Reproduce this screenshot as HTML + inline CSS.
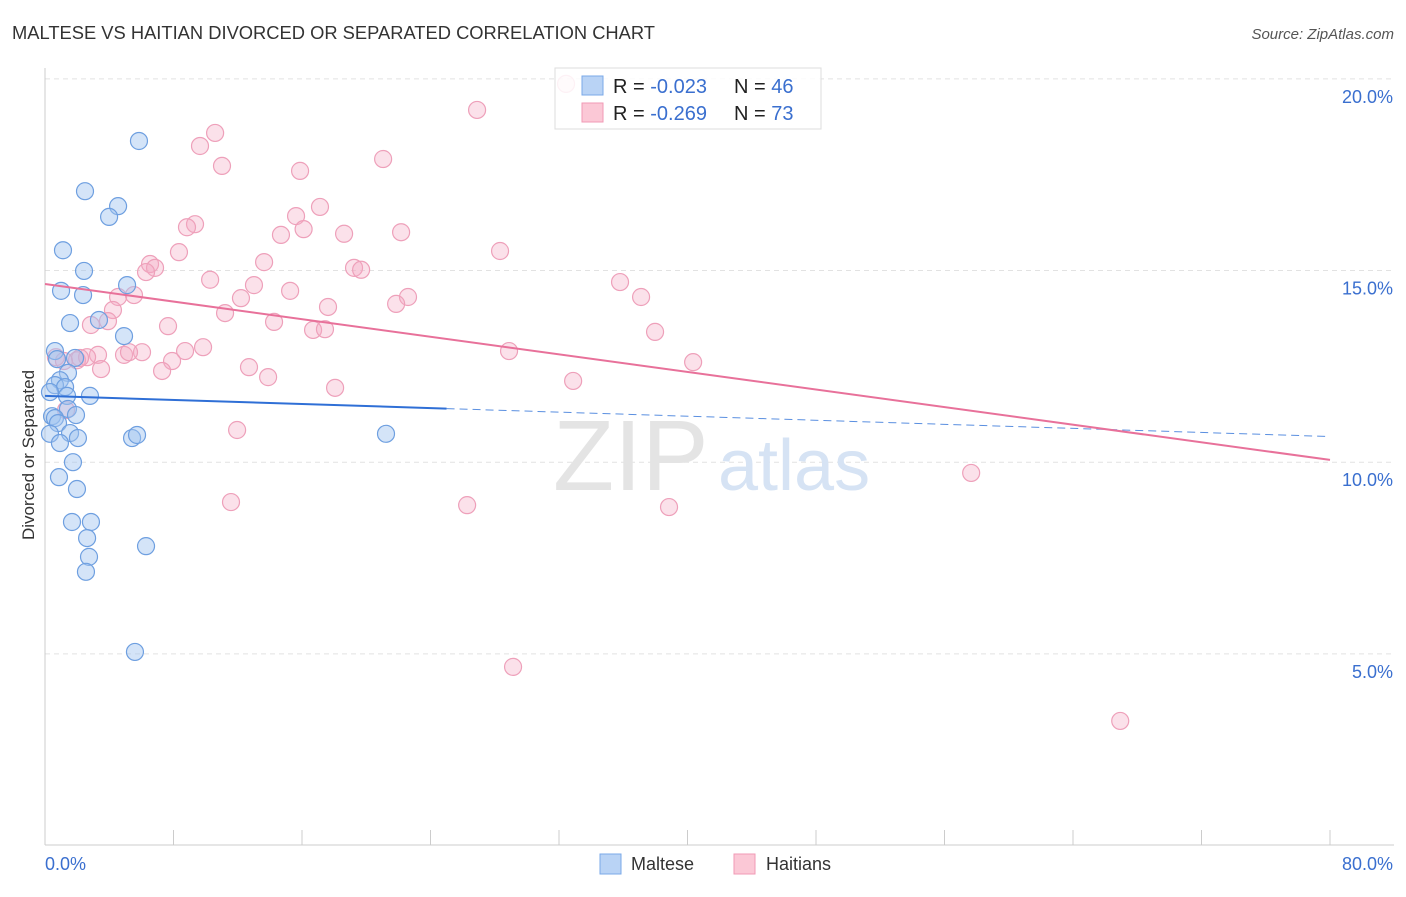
<!DOCTYPE html>
<html><head><meta charset="utf-8"><style>
body{margin:0;background:#fff;font-family:"Liberation Sans",sans-serif;}
svg text{font-family:"Liberation Sans",sans-serif;}
</style></head><body>
<svg id="chart" width="1406" height="892" viewBox="0 0 1406 892" xmlns="http://www.w3.org/2000/svg">
<text x="12" y="39" font-size="18" fill="#333" textLength="643" lengthAdjust="spacingAndGlyphs">MALTESE VS HAITIAN DIVORCED OR SEPARATED CORRELATION CHART</text>
<text x="1394" y="39" font-size="15" fill="#555" font-style="italic" text-anchor="end">Source: ZipAtlas.com</text>
<g id="grid"></g>
<g id="yticks"></g>
<g id="xticks"></g>
<line x1="45" y1="68" x2="45" y2="845" stroke="#ccc"/>
<line x1="45" y1="845" x2="1394" y2="845" stroke="#ccc"/>
<text x="553" y="490" font-size="100" fill="#e4e4e4" font-family="Liberation Serif">ZIP</text>
<text x="718" y="490" font-size="72" fill="#d6e3f4">atlas</text>
<text transform="translate(34,455) rotate(-90)" font-size="17" fill="#333" text-anchor="middle">Divorced or Separated</text>
<text x="45" y="870" font-size="18" fill="#3a6fcf">0.0%</text>
<text x="1393" y="870" font-size="18" fill="#3a6fcf" text-anchor="end">80.0%</text>
<g id="pts"></g>
<g id="lines"></g>
<g>
<rect x="555" y="68" width="266" height="61" fill="rgba(255,255,255,0.85)" stroke="#ddd"/>
<rect x="582" y="76" width="21" height="19" fill="#b9d3f5" stroke="#7aa8e8"/>
<rect x="582" y="103" width="21" height="19" fill="#fbc8d6" stroke="#f09ab5"/>
<text x="613" y="93" font-size="20" fill="#222">R = <tspan fill="#3a6fcf">-0.023</tspan></text>
<text x="734" y="93" font-size="20" fill="#222">N = <tspan fill="#3a6fcf">46</tspan></text>
<text x="613" y="120" font-size="20" fill="#222">R = <tspan fill="#3a6fcf">-0.269</tspan></text>
<text x="734" y="120" font-size="20" fill="#222">N = <tspan fill="#3a6fcf">73</tspan></text>
</g>
<g>
<rect x="600" y="854" width="21" height="20" fill="#b9d3f5" stroke="#7aa8e8"/>
<text x="631" y="870" font-size="18" fill="#333">Maltese</text>
<rect x="734" y="854" width="21" height="20" fill="#fbc8d6" stroke="#f09ab5"/>
<text x="766" y="870" font-size="18" fill="#333">Haitians</text>
</g>
</svg>
<script>
const yTicks=[5,10,15,20];
const yTickLabels=["5.0%","10.0%","15.0%","20.0%"];
const xTicks=[0,8,16,24,32,40,48,56,64,72,80];
const malteseX=[5.85,2.49,4.55,3.99,1.12,2.43,5.11,1.0,2.37,1.56,3.36,4.92,0.62,0.75,1.87,1.43,0.93,0.62,1.25,1.37,2.8,0.31,1.43,1.93,0.44,0.62,0.81,1.56,2.05,0.31,0.93,5.42,5.73,21.23,1.74,0.87,1.99,1.68,2.86,2.62,2.74,2.55,6.29,5.6];
const malteseY=[18.38,17.07,16.68,16.4,15.53,14.99,14.62,14.47,14.36,13.63,13.71,13.29,12.9,12.69,12.72,12.33,12.14,12.01,11.96,11.73,11.73,11.83,11.39,11.23,11.2,11.15,11.02,10.76,10.63,10.74,10.5,10.63,10.71,10.74,10.0,9.61,9.3,8.44,8.44,8.02,7.53,7.14,7.81,5.05];
const haitiX=[32.44,26.9,10.59,9.65,21.05,11.02,15.88,17.12,15.63,9.34,8.84,16.1,14.69,18.62,22.17,28.33,8.34,13.64,6.54,6.85,6.29,19.24,19.68,10.28,13.01,35.8,15.26,4.55,5.54,12.2,22.6,37.11,17.62,21.86,4.23,11.21,3.92,2.86,14.26,7.66,16.69,17.43,37.98,9.84,8.72,6.04,4.92,5.23,3.3,28.89,0.68,1.99,2.62,2.18,1.18,7.91,40.35,3.49,12.7,7.29,13.89,32.88,18.06,1.31,11.96,57.66,11.58,26.28,38.85,29.14,66.94];
const haitiY=[19.87,19.19,18.59,18.25,17.91,17.73,17.6,16.66,16.42,16.21,16.13,16.08,15.93,15.96,16.0,15.51,15.48,15.22,15.17,15.07,14.96,15.07,15.02,14.76,14.62,14.7,14.47,14.31,14.36,14.28,14.31,14.31,14.05,14.13,13.97,13.89,13.68,13.58,13.66,13.55,13.45,13.47,13.4,13.0,12.9,12.87,12.8,12.87,12.8,12.9,12.74,12.66,12.74,12.72,12.64,12.64,12.61,12.43,12.48,12.38,12.22,12.12,11.94,11.36,10.84,9.72,8.96,8.88,8.83,4.66,3.25];
const malteseTrend=[11.73,10.67];
const haitiTrend=[14.65,10.06];
const malteseSolidEnd=25;
const NS="http://www.w3.org/2000/svg";
function sx(v){return 45+v*(1285/80);}
function sy(v){return 845.5-v*38.33;}
function mk(tag,attrs,parent){const e=document.createElementNS(NS,tag);for(const k in attrs)e.setAttribute(k,attrs[k]);parent.appendChild(e);return e;}
const grid=document.getElementById('grid'),yt=document.getElementById('yticks'),xt=document.getElementById('xticks'),pts=document.getElementById('pts'),ln=document.getElementById('lines');
yTicks.forEach((t,i)=>{
 const l=mk('line',{x1:45,x2:1394,y1:sy(t),y2:sy(t),stroke:'#e2e2e2','stroke-dasharray':'5,4'},grid);
 
 
 const tx=mk('text',{x:1393,y:sy(t)+24,'font-size':18,fill:'#3a6fcf','text-anchor':'end'},yt);
 tx.textContent=yTickLabels[i];
 
 
});
xTicks.forEach(t=>{
 const l=mk('line',{x1:sx(t),x2:sx(t),y1:830,y2:845,stroke:'#ccc'},xt);
 
 
});
haitiX.forEach((x,i)=>{
 const c=mk('circle',{cx:sx(x),cy:sy(haitiY[i]),r:8.5,fill:'rgba(244,170,195,0.35)',stroke:'#eea0ba','stroke-width':1.2},pts);
 
 
});
malteseX.forEach((x,i)=>{
 const c=mk('circle',{cx:sx(x),cy:sy(malteseY[i]),r:8.5,fill:'rgba(160,195,240,0.45)',stroke:'#6e9fe0','stroke-width':1.2},pts);
 
 
});
function ty(tr,x){return tr[0]+(tr[1]-tr[0])*x/80;}
let a=mk('line',{x1:sx(0),y1:sy(ty(malteseTrend,0)),x2:sx(malteseSolidEnd),y2:sy(ty(malteseTrend,malteseSolidEnd)),stroke:'#2f6fd6','stroke-width':2},ln);


a=mk('line',{x1:sx(malteseSolidEnd),y1:sy(ty(malteseTrend,malteseSolidEnd)),x2:sx(80),y2:sy(ty(malteseTrend,80)),stroke:'#5a8fe0','stroke-width':1,'stroke-dasharray':'8,5'},ln);


a=mk('line',{x1:sx(0),y1:sy(haitiTrend[0]),x2:sx(80),y2:sy(haitiTrend[1]),stroke:'#e8719a','stroke-width':2},ln);


</script>
</body></html>
